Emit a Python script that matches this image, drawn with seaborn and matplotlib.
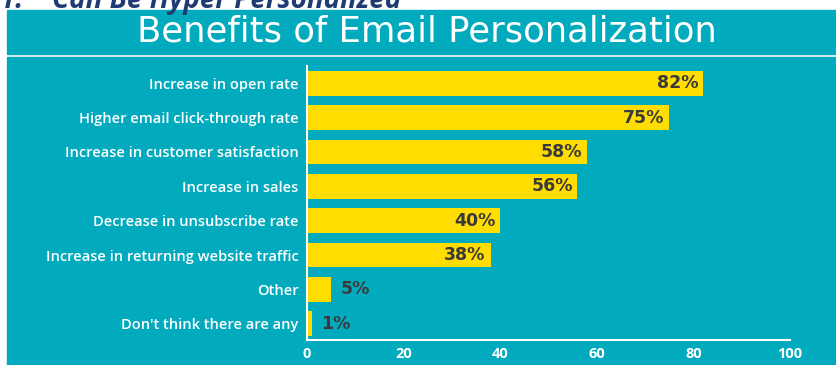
import matplotlib
matplotlib.use("Agg")
import matplotlib.pyplot as plt
import matplotlib.patches as mpatches
import seaborn as sns
import pandas as pd

categories = [
    "Increase in open rate",
    "Higher email click-through rate",
    "Increase in customer satisfaction",
    "Increase in sales",
    "Decrease in unsubscribe rate",
    "Increase in returning website traffic",
    "Other",
    "Don't think there are any",
]
values = [82, 75, 58, 56, 40, 38, 5, 1]
x_ticks = [0, 20, 40, 60, 80, 100]
title = "Benefits of Email Personalization"
heading = "1.    Can Be Hyper Personalized"

TEAL = "#02AABD"
YELLOW = "#FFDD00"
DARK = "#3A3A3A"

sns.set_theme(style="white")
plt.rcParams["font.family"] = ["Open Sans", "DejaVu Sans"]

W, H = 836, 365
fig = plt.figure(figsize=(W / 100, H / 100), dpi=100)
fig.patch.set_facecolor("white")

def px_rect(x0, y0, x1, y1, color):
    fig.patches.append(mpatches.Rectangle((x0 / W, 1 - y1 / H), (x1 - x0) / W, (y1 - y0) / H,
                                          transform=fig.transFigure, color=color, zorder=-10))

px_rect(7, 10, W, 53.5, TEAL)
px_rect(7, 57, W, H, TEAL)

fig.text(427 / W, 1 - 31 / H, title, color="white", fontsize=25.5,
         family=["DejaVu Sans"], ha="center", va="center")
fig.text(0.0, 1 - 8 / H, heading, color="#1F3B73", fontsize=20, fontweight="bold",
         style="italic", family=["Open Sans", "DejaVu Sans"], ha="left", va="baseline")

ax = fig.add_axes([307 / W, 1 - 340 / H, (790 - 307) / W, (340 - 66) / H])
ax.set_facecolor("none")
ax.set_zorder(2)

df = pd.DataFrame({"category": categories, "value": values})
sns.barplot(data=df, x="value", y="category", orient="h", color=YELLOW,
            saturation=1, width=0.72, linewidth=0, ax=ax)

ax.set_xlim(0, 100)
ax.set_ylim(7.47, -0.5)
ax.set_xlabel("")
ax.set_ylabel("")
ax.set_xticks(x_ticks)
ax.set_xticklabels([str(t) for t in x_ticks])
for s in ["top", "right"]:
    ax.spines[s].set_visible(False)
for s in ["left", "bottom"]:
    ax.spines[s].set_color("white")
    ax.spines[s].set_linewidth(1.5)
ax.tick_params(axis="x", direction="in", length=6, width=1.5, color="white",
               labelcolor="white", labelsize=10.5, pad=5)
ax.tick_params(axis="y", length=0, labelcolor="white", labelsize=10.5, pad=6)
for lbl in ax.get_xticklabels():
    lbl.set_fontweight("bold")
for lbl in ax.get_yticklabels():
    lbl.set_fontweight("semibold")

for i, v in enumerate(values):
    if v >= 20:
        ax.text(v - 1, i, f"{v}%", ha="right", va="center", color=DARK,
                fontsize=12.5, fontweight="bold", family=["DejaVu Sans"])
    else:
        ax.text(v + 2, i, f"{v}%", ha="left", va="center", color=DARK,
                fontsize=12.5, fontweight="bold", family=["DejaVu Sans"])

fig.savefig("out.png", dpi=100, facecolor=fig.get_facecolor())
